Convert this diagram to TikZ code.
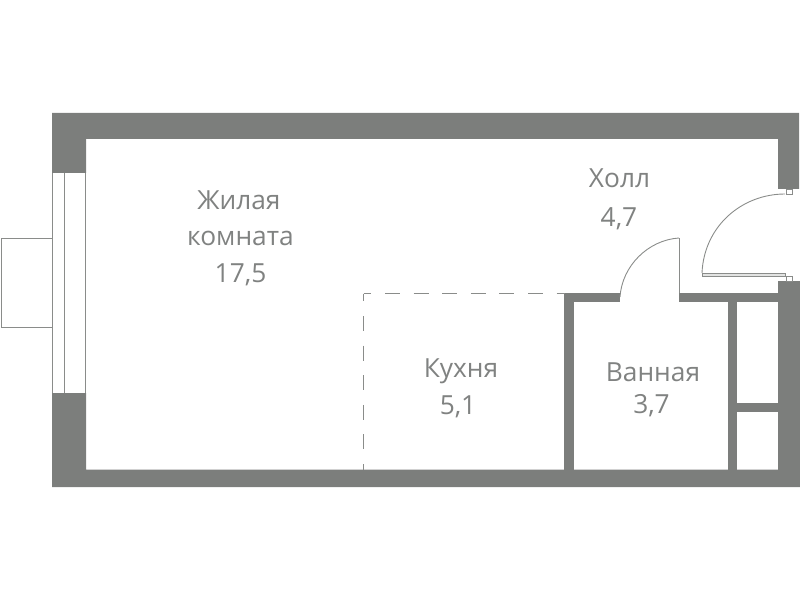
\documentclass[tikz,border=0pt]{standalone}
\usepackage{fontspec}
\setmainfont{Open Sans}
\definecolor{wallc}{HTML}{7C7E7C}
\definecolor{linec}{HTML}{8A8C8A}
\definecolor{textc}{HTML}{808281}
\definecolor{leafc}{HTML}{E2E3E2}
\tikzset{
  wall/.style={fill=wallc,draw=none},
  thin line/.style={draw=linec,line width=0.9pt},
  doorline/.style={draw=linec,line width=0.9pt},
  partition/.style={draw=linec,line width=1pt,dash pattern=on 15pt off 13.7pt,dash phase=7pt},
  partitionv/.style={draw=linec,line width=1pt,dash pattern=on 15pt off 14.7pt,dash phase=7pt},
  label/.style={text=textc,align=center,inner sep=0pt}
}
\newcommand{\lblsize}[1]{\fontsize{26.4}{#1}\selectfont}
\begin{document}
\begin{tikzpicture}[x=1bp,y=-1bp]
\useasboundingbox (0,0) rectangle (800,600);
% outer walls
\fill[wall] (52,113) -- (799,113) -- (799,189) -- (778,189) -- (778,139) -- (86,139) -- (86,173) -- (52,173) -- cycle;
\fill[wall] (52,393) -- (86,393) -- (86,469.5) -- (778,469.5) -- (778,281) -- (800,281) -- (800,487) -- (52,487) -- cycle;
% inner walls
\fill[wall] (564,293) rectangle (620,302);
\fill[wall] (564,293) rectangle (574,470);
\fill[wall] (679,293) rectangle (778,302);
\fill[wall] (728,293) rectangle (737,470);
\fill[wall] (737,403) rectangle (778,412);
% window
\draw[thin line] (52.5,173) -- (52.5,393);
\draw[thin line] (64.5,173) -- (64.5,393);
\draw[thin line] (85.5,173) -- (85.5,393);
% balcony
\draw[thin line] (52,238.5) -- (1,238.5) -- (1,327) -- (52,327);
% partition
\draw[partition] (363.5,293.5) -- (565,293.5);
\draw[partitionv] (363.5,293.5) -- (363.5,470);
% door 1
\draw[doorline] (620,297) .. controls (622,266) and (648,240) .. (679,238);
\draw[doorline] (679,238) -- (679,293);
% door 2
\draw[doorline,fill=leafc] (702,273) rectangle (785,276);
\draw[doorline] (702,273) .. controls (704,226) and (742,194) .. (785,194);
\draw[thin line] (786,189) rectangle (792,194);
\draw[thin line] (786,276) rectangle (792,281);
% labels
\node[label,font=\lblsize{36.5}] (living) at (240.5,238) {\hspace*{-3pt}Жилая\\комната\\17,5};
\node[label,font=\lblsize{39}] (hall) at (619.5,199.5) {Холл\\\hspace*{-1pt}4,7};
\node[label,font=\lblsize{37}] (kitchen) at (461,388.5) {Кухня\\\hspace*{-6pt}5,1};
\node[label,font=\lblsize{32}] (bath) at (653,389.5) {Ванная\\\hspace*{-3pt}3,7};
\end{tikzpicture}
\end{document}
